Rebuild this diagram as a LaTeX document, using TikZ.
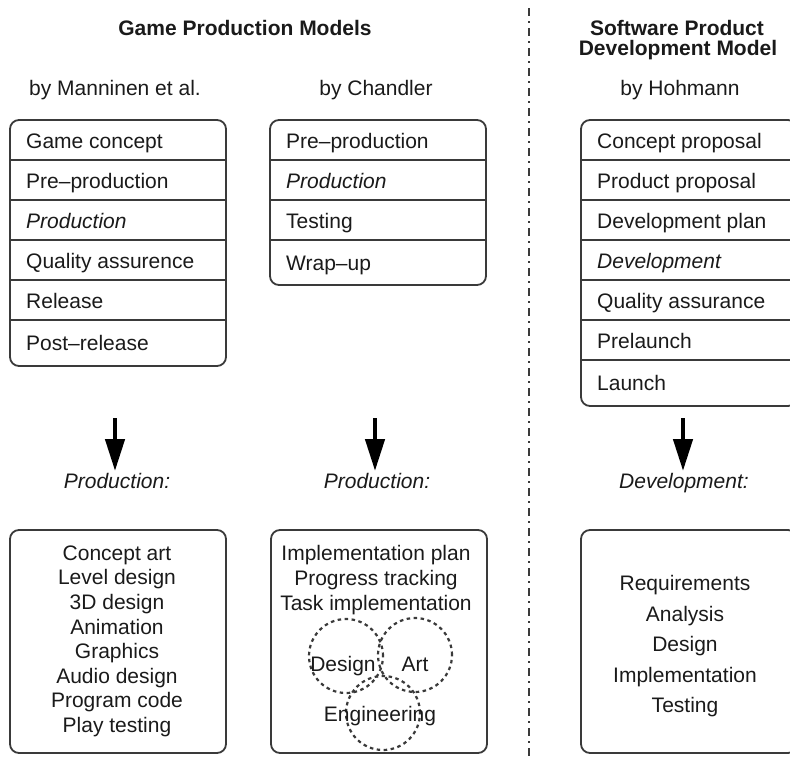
\documentclass[tikz,border=0pt]{standalone}
\usepackage{fontspec}
\setmainfont{Liberation Sans}
\usetikzlibrary{arrows.meta}
\definecolor{txt}{HTML}{1A1A1A}
\definecolor{bord}{HTML}{3A3A3A}
\begin{document}
\begin{tikzpicture}[x=1pt,y=-1pt,
  every node/.style={font=\fontsize{21}{25}\selectfont, text=txt, inner sep=0pt},
  box/.style={draw=bord, line width=1.8pt, rounded corners=9pt},
  row/.style={anchor=base west},
  sep/.style={draw=bord, line width=1.8pt},
  ttl/.style={font=\fontsize{21}{21}\bfseries\selectfont, anchor=base},
  sub/.style={anchor=base},
  lbl/.style={font=\fontsize{21}{25}\itshape\selectfont, anchor=base},
  bigarrow/.style={draw=black, line width=4.5pt, -{Triangle[length=32pt,width=19pt]}},
  venn/.style={draw=bord, line width=2.2pt, dash pattern=on 3.5pt off 3.5pt, circle, minimum size=74pt},
]
\useasboundingbox (0,0) rectangle (790,756);
\begin{scope}
\clip (0,0) rectangle (790,756);

% titles
\node[ttl] (t1) at (245,35) {Game Production Models};
\node[ttl] (t2a) at (677,35) {Software Product};
\node[ttl] (t2b) at (678,55) {Development Model};
\node[sub] (s1) at (115,95) {by Manninen et al.};
\node[sub] (s2) at (376,95) {by Chandler};
\node[sub] (s3) at (680,95) {by Hohmann};

% divider
\coordinate (dtop) at (529,8);
\coordinate (dbot) at (529,756);
\draw[bord, line width=1.3pt, dash pattern=on 8pt off 5pt on 2pt off 5pt] (dtop) -- (dbot);

% box 1 (Manninen)
\node[box, minimum width=216pt, minimum height=246pt] (m) at (118,243) {};
\foreach \yy in {160,200,240,280,320} \draw[sep] (m.west |- 0,\yy) -- (m.east |- 0,\yy);
\node[row] (m1) at (26,148) {Game concept};
\node[row] (m2) at (26,188) {Pre{\textendash}production};
\node[row] (m3) at (26,228) {\itshape Production};
\node[row] (m4) at (26,268) {Quality assurence};
\node[row] (m5) at (26,308) {Release};
\node[row] (m6) at (26,350) {Post{\textendash}release};

% box 2 (Chandler)
\node[box, minimum width=216pt, minimum height=165pt] (c) at (378,202.5) {};
\foreach \yy in {160,200,240} \draw[sep] (c.west |- 0,\yy) -- (c.east |- 0,\yy);
\node[row] (c1) at (286,148) {Pre{\textendash}production};
\node[row] (c2) at (286,188) {\itshape Production};
\node[row] (c3) at (286,228) {Testing};
\node[row] (c4) at (286,270) {Wrap{\textendash}up};

% box 3 (Hohmann)
\node[box, minimum width=216pt, minimum height=286pt] (h) at (689,263) {};
\foreach \yy in {160,200,240,280,320,360} \draw[sep] (h.west |- 0,\yy) -- (h.east |- 0,\yy);
\node[row] (h1) at (597,148) {Concept proposal};
\node[row] (h2) at (597,188) {Product proposal};
\node[row] (h3) at (597,228) {Development plan};
\node[row] (h4) at (597,268) {\itshape Development};
\node[row] (h5) at (597,308) {Quality assurance};
\node[row] (h6) at (597,348) {Prelaunch};
\node[row] (h7) at (597,390) {Launch};

% arrows and labels
\node[lbl] (p1) at (117,488) {Production:};
\node[lbl] (p2) at (377,488) {Production:};
\node[lbl] (p3) at (684,488) {Development:};
\coordinate (a1) at (115,418);
\coordinate (a2) at (375,418);
\coordinate (a3) at (683,418);
\coordinate (e1) at (115,471);
\coordinate (e2) at (375,471);
\coordinate (e3) at (683,471);
\draw[bigarrow] (a1) -- (e1);
\draw[bigarrow] (a2) -- (e2);
\draw[bigarrow] (a3) -- (e3);

% bottom boxes
\node[box, minimum width=216pt, minimum height=223pt] (bm) at (118,641.5) {};
\node[box, minimum width=216pt, minimum height=223pt] (bc) at (379,641.5) {};
\node[box, minimum width=216pt, minimum height=223pt] (bh) at (689,641.5) {};

\node[align=center, anchor=north, font=\fontsize{21}{24.6}\selectfont] (lm) at (117,545.5)
  {Concept art\\Level design\\3D design\\Animation\\Graphics\\Audio design\\Program code\\Play testing};
\node[align=center, anchor=north, font=\fontsize{21}{25}\selectfont] (lc) at (376,545.5)
  {Implementation plan\\Progress tracking\\Task implementation};
\node[align=center, anchor=north, font=\fontsize{21}{30.5}\selectfont] (lh) at (685,575.5)
  {Requirements\\Analysis\\Design\\Implementation\\Testing};

% venn
\node[venn] (vd) at (346,656) {};
\node[venn] (va) at (415,655) {};
\node[venn] (ve) at (383,713) {};
\node[sub] (vdl) at (343,671) {Design};
\node[sub] (val) at (415,671) {Art};
\node[sub] (vel) at (380,721) {Engineering};
\end{scope}
\end{tikzpicture}
\end{document}
